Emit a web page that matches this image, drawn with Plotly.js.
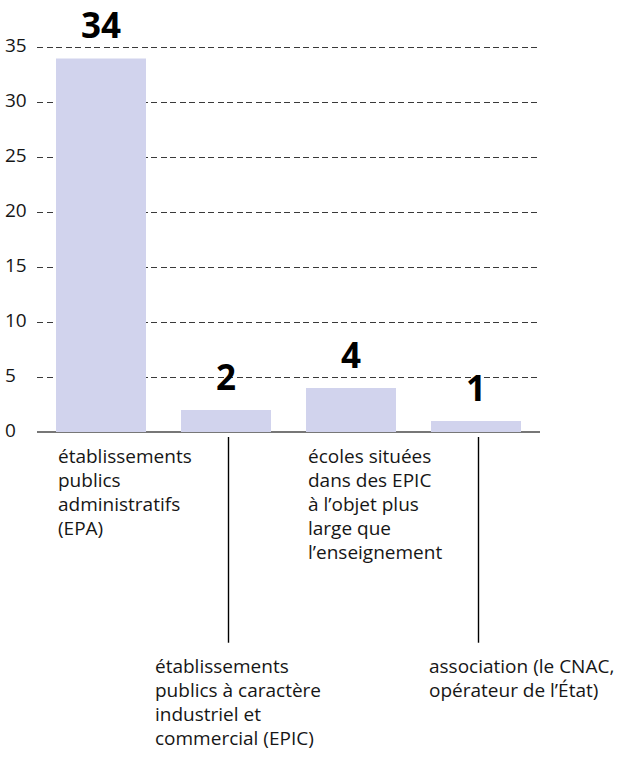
<!DOCTYPE html>
<html>
<head>
<meta charset="utf-8">
<script src="https://cdn.plot.ly/plotly-3.0.1.min.js"></script>
<style>html,body{margin:0;padding:0;background:#fff;}#chart{width:622px;height:769px;}</style>
</head>
<body>
<div id="chart"></div>
<script>
// ---- data ----
const categories = ["EPA", "EPIC", "Écoles EPIC", "Association"];
const values = [34, 2, 4, 1];
const valueLabels = ["34", "2", "4", "1"];
const yTicks = [0, 5, 10, 15, 20, 25, 30, 35];
const categoryLabels = [
  ["établissements", "publics", "administratifs", "(EPA)"],
  ["établissements", "publics à caractère", "industriel et", "commercial (EPIC)"],
  ["écoles situées", "dans des EPIC", "à l’objet plus", "large que", "l’enseignement"],
  ["association (le CNAC,", "opérateur de l’État)"]
];

// ---- layout constants ----
const FONT = "Open Sans, Noto Sans, sans-serif";
const TXT = "#161616";
const yMax = 35.5;
const plotBottom = 432, plotLeft = 37, plotRight = 540;
const pxPerValue = 11;
const plotTop = plotBottom - yMax * pxPerValue;
const W = 622, H = 769;
const pxPerUnit = 125;
// label placement: [x offset from bar centre in category units, first line pixel y]
const labelPlace = [[-0.36, 456], [-0.584, 666], [-0.36, 456], [-0.39, 666]];
const leaderLines = [1, 3];
const lineStep = 24;

const annotations = [];
// value labels
values.forEach((v, i) => {
  annotations.push({
    x: i, y: v, xref: "x", yref: "y", text: "<b>" + valueLabels[i] + "</b>",
    showarrow: false, yanchor: "bottom", xanchor: "center", yshift: 8,
    font: {family: FONT, size: 35, color: "#000"}
  });
});
// y tick labels (left aligned)
yTicks.forEach(t => {
  annotations.push({
    x: (3 - plotLeft) / (plotRight - plotLeft), xref: "paper", y: t, yref: "y",
    text: String(t), showarrow: false, xanchor: "left", yanchor: "middle", yshift: 2,
    font: {family: FONT, size: 19, color: TXT}
  });
});
// category labels
categoryLabels.forEach((lines, i) => {
  lines.forEach((ln, j) => {
    annotations.push({
      x: i + labelPlace[i][0], xref: "x", y: 0, yref: "y",
      text: ln, showarrow: false, xanchor: "left", yanchor: "middle",
      yshift: plotBottom - (labelPlace[i][1] + j * lineStep),
      font: {family: FONT, size: 19, color: TXT}
    });
  });
});

const plotH = plotBottom - plotTop;
const shapes = leaderLines.map(i => ({
  type: "line", xref: "x", yref: "paper",
  x0: i + 0.02, x1: i + 0.02,
  y0: (plotBottom - 437) / plotH, y1: (plotBottom - 643) / plotH,
  line: {color: "#000", width: 1.4}
}));

const x0 = -(101 - plotLeft) / pxPerUnit;
const x1 = x0 + (plotRight - plotLeft) / pxPerUnit;

const trace = {
  type: "bar",
  x: categories.map((c, i) => i),
  y: values,
  width: 0.72,
  marker: {color: "#d1d3ed", line: {width: 0}},
  hoverinfo: "none"
};

const layout = {
  width: W, height: H,
  margin: {l: plotLeft, r: W - plotRight, t: plotTop, b: H - plotBottom, pad: 0},
  paper_bgcolor: "#fff", plot_bgcolor: "#fff",
  showlegend: false,
  xaxis: {range: [x0, x1], showgrid: false, zeroline: false, showticklabels: false, ticks: "", showline: false, fixedrange: true},
  yaxis: {
    range: [0, yMax], tickvals: yTicks.slice(1), showticklabels: false, ticks: "",
    showgrid: true, gridcolor: "#3a3a3a", gridwidth: 1, griddash: "6px,3.5px",
    zeroline: true, zerolinecolor: "#777", zerolinewidth: 1.5, showline: false, fixedrange: true
  },
  annotations: annotations,
  shapes: shapes,
  font: {family: FONT, color: TXT}
};

Plotly.newPlot("chart", [trace], layout, {displayModeBar: false, staticPlot: true});
</script>
</body>
</html>
